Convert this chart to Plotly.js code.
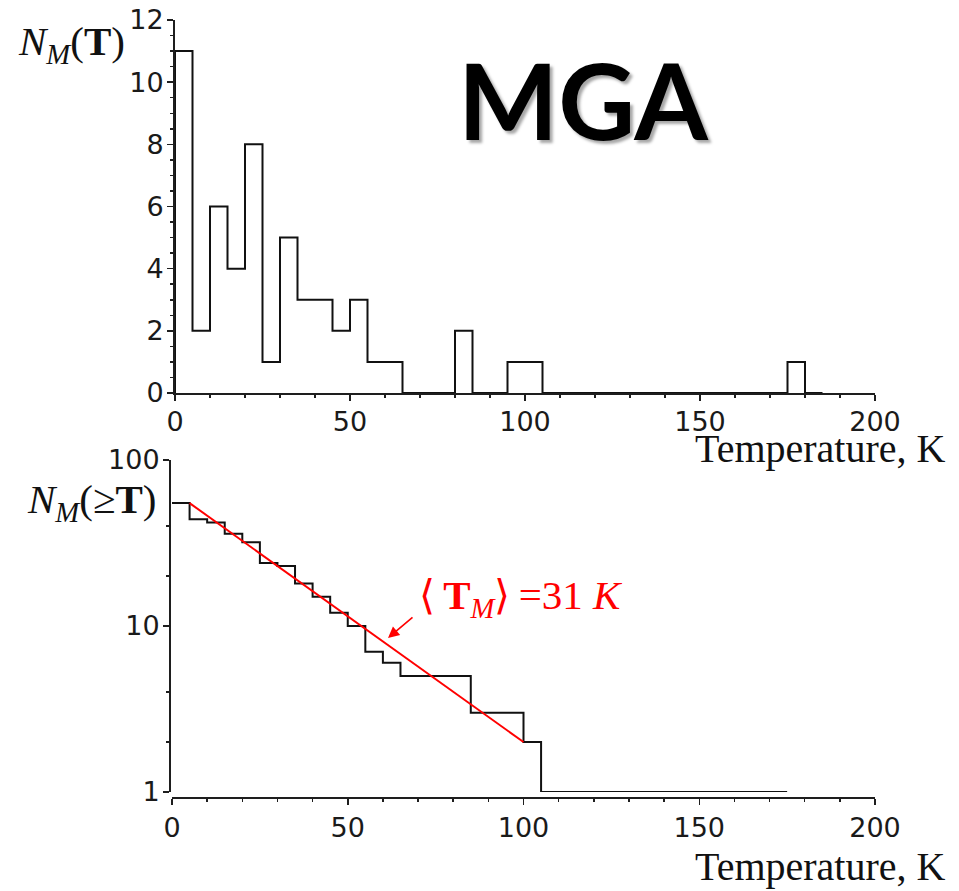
<!DOCTYPE html>
<html>
<head>
<meta charset="utf-8">
<script src="https://cdn.plot.ly/plotly-3.0.1.min.js"></script>
<style>html,body{margin:0;padding:0;background:#fff;}#chart{width:959px;height:891px;}</style>
</head>
<body>
<div id="chart"></div>
<script>
// Histogram N_M(T): bin start temperatures (K) and counts (bin width 5 K)
const binStart = [0,5,10,15,20,25,30,35,40,45,50,55,60,65,70,75,80,85,90,95,100,105,110,115,120,125,130,135,140,145,150,155,160,165,170,175,180];
const histCounts = [11,2,6,4,8,1,5,3,3,2,3,1,1,0,0,0,2,0,0,1,1,0,0,0,0,0,0,0,0,0,0,0,0,0,0,1,0];
const binWidth = 5;

// Cumulative N_M(>=T) staircase
const cumT = [0,5,10,15,20,25,30,35,40,45,50,55,60,65,85,100,105,175];
const cumN = [55,44,42,36,32,24,23,18,15,12,10,7,6,5,3,2,1,1];

// Exponential fit line <T_M> = 31 K
const fitT = [5,100];
const fitN = [55,2];

// Tick labels
const topYTicks = [0,2,4,6,8,10,12];
const xTicks = [0,50,100,150,200];
const logYTicks = [1,10,100];
const logYTickText = ['1','10','100'];
const logYMinor = [2,4,20,40];

// Histogram outline as a step line built from the bins
const lastBin = binStart[binStart.length - 1];
const histStepX = [binStart[0]].concat(binStart, [lastBin + binWidth]);
const histStepY = [0].concat(histCounts, [histCounts[histCounts.length - 1]]);

const W = 959, H = 891;
const px = v => v / W;
const py = v => 1 - v / H;

const axisColor = '#1e1e1e';
const tickFont = {family: 'DejaVu Sans, Verdana, sans-serif', size: 27, color: '#1a1a1a'};
const serif = 'Liberation Serif, Times New Roman, serif';

const traces = [
  {
    type: 'scatter', mode: 'lines', x: histStepX, y: histStepY,
    line: {shape: 'hv', color: '#111', width: 2},
    xaxis: 'x', yaxis: 'y', hoverinfo: 'skip', showlegend: false, cliponaxis: false
  },
  {
    type: 'scatter', mode: 'lines', x: cumT, y: cumN,
    line: {shape: 'hv', color: '#111', width: 2},
    xaxis: 'x2', yaxis: 'y2', showlegend: false, hoverinfo: 'skip', cliponaxis: false
  },
  {
    type: 'scatter', mode: 'lines', x: fitT, y: fitN,
    line: {color: '#ff0000', width: 2},
    xaxis: 'x2', yaxis: 'y2', showlegend: false, hoverinfo: 'skip'
  }
];

const commonAxis = {
  showgrid: false, zeroline: false, showline: true, linecolor: axisColor, linewidth: 2,
  ticks: 'outside', ticklen: 6, tickwidth: 1.5, tickcolor: axisColor, tickfont: tickFont,
  fixedrange: true
};

const layout = {
  width: W, height: H,
  margin: {l: 0, r: 0, t: 0, b: 0, pad: 0},
  paper_bgcolor: '#fff', plot_bgcolor: 'rgba(0,0,0,0)',
  showlegend: false,
  xaxis: Object.assign({}, commonAxis, {
    domain: [px(175), px(875)], range: [0, 200], anchor: 'y',
    tickvals: xTicks, ticklabelstandoff: -2,
    minor: {dtick: 10, tick0: 0, ticks: 'outside', ticklen: 3, tickwidth: 1.5, tickcolor: axisColor}
  }),
  yaxis: Object.assign({}, commonAxis, {
    domain: [py(393), py(20)], range: [0, 12], anchor: 'x',
    tickvals: topYTicks, ticklabelstandoff: -2,
    minor: {dtick: 0.5, tick0: 0, ticks: 'outside', ticklen: 3, tickwidth: 1.5, tickcolor: axisColor}
  }),
  xaxis2: Object.assign({}, commonAxis, {
    domain: [px(172), px(875)], range: [0, 200], anchor: 'free', position: py(798),
    tickvals: xTicks,
    minor: {dtick: 10, tick0: 0, ticks: 'outside', ticklen: 3, tickwidth: 1.5, tickcolor: axisColor}
  }),
  yaxis2: Object.assign({}, commonAxis, {
    type: 'log', domain: [py(792), py(460)], range: [0, 2], anchor: 'free', position: px(170),
    tickvals: logYTicks, ticktext: logYTickText, ticklabelstandoff: -2,
    minor: {tickvals: logYMinor, ticks: 'outside', ticklen: 3, tickwidth: 1.5, tickcolor: axisColor}
  }),
  annotations: [
    {xref: 'paper', yref: 'paper', x: px(583), y: py(99), xanchor: 'center', yanchor: 'middle',
     text: '<b>MGA</b>', showarrow: false,
     font: {family: 'Lato, Open Sans, sans-serif', size: 106, color: '#000', shadow: '3px 3px 3px rgba(0,0,0,0.35)'}},
    {xref: 'paper', yref: 'paper', x: px(16), y: py(44), xanchor: 'left', yanchor: 'middle',
     text: '<i>N</i><sub><i>M</i></sub>(<b>T</b>)', showarrow: false,
     font: {family: serif, size: 41, color: '#111'}},
    {xref: 'paper', yref: 'paper', x: px(25), y: py(502), xanchor: 'left', yanchor: 'middle',
     text: '<i>N</i><sub><i>M</i></sub>(≥<b>T</b>)', showarrow: false,
     font: {family: serif, size: 41, color: '#111'}},
    {xref: 'paper', yref: 'paper', x: px(948), y: py(448), xanchor: 'right', yanchor: 'middle',
     text: 'Temperature, K', showarrow: false,
     font: {family: serif, size: 40, color: '#111'}},
    {xref: 'paper', yref: 'paper', x: px(948), y: py(866), xanchor: 'right', yanchor: 'middle',
     text: 'Temperature, K', showarrow: false,
     font: {family: serif, size: 40, color: '#111'}},
    {xref: 'paper', yref: 'paper', x: px(417), y: py(598), xanchor: 'left', yanchor: 'middle',
     text: '⟨\u2009<b>T</b><sub><i>M</i></sub>⟩\u2009=31 <i>K</i>', showarrow: false,
     font: {family: serif, size: 41, color: '#ff0000'}},
    {xref: 'paper', yref: 'paper', x: px(388), y: py(638), text: '', showarrow: true,
     ax: 26, ay: -22, arrowcolor: '#ff0000', arrowhead: 2, arrowsize: 1.4, arrowwidth: 1.6, standoff: 0, startstandoff: 0}
  ]
};

Plotly.newPlot('chart', traces, layout, {staticPlot: true, displayModeBar: false});
</script>
</body>
</html>
